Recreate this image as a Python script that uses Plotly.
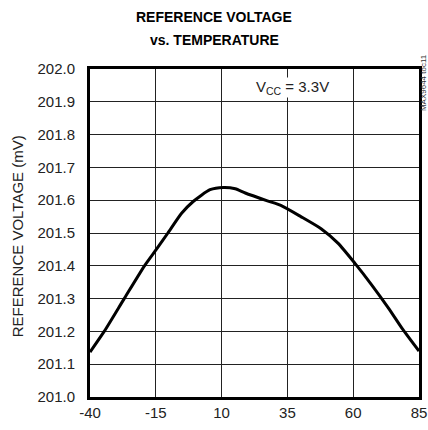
import plotly.graph_objects as go

temperature = [-40, -34.6, -27, -19.3, -14.8, -10.4, -5.2, -0.8, 5.6, 10.7, 15.2, 19, 27.4, 32.5, 40.1, 47.8, 54.2, 60.6, 67, 73.4, 78.5, 85]
voltage = [201.137, 201.2, 201.30, 201.40, 201.45, 201.50, 201.56, 201.596, 201.632, 201.639, 201.635, 201.622, 201.598, 201.584, 201.55, 201.513, 201.469, 201.408, 201.342, 201.271, 201.21, 201.14]

x_ticks = [-40, -15, 10, 35, 60, 85]
y_ticks = [201.0, 201.1, 201.2, 201.3, 201.4, 201.5, 201.6, 201.7, 201.8, 201.9, 202.0]
y_labels = [f"{v:.1f}" for v in y_ticks]

FONT = "Liberation Sans, Arial, sans-serif"

fig = go.Figure()
fig.add_trace(go.Scatter(x=temperature, y=voltage, mode="lines",
                         line=dict(color="black", width=3, shape="spline", smoothing=0.6),
                         hoverinfo="skip", showlegend=False))

fig.update_layout(
    width=428, height=430,
    margin=dict(l=90, r=9, t=69, b=33, autoexpand=False),
    paper_bgcolor="white", plot_bgcolor="white",
    font=dict(family=FONT, size=15, color="#222"),
    showlegend=False,
)
fig.update_xaxes(range=[-40, 85], tickvals=x_ticks, ticktext=[str(t) for t in x_ticks],
                 showgrid=True, gridcolor="#222", gridwidth=1,
                 showline=True, linecolor="black", linewidth=3, mirror=True,
                 ticks="", ticklabelstandoff=0, zeroline=False, automargin=False,
                 ticklabeloverflow="allow",
                 tickfont=dict(family=FONT, size=15, color="#222"))
fig.update_yaxes(range=[201.0, 202.0], tickvals=y_ticks, ticktext=y_labels,
                 showgrid=True, gridcolor="#222", gridwidth=1,
                 showline=True, linecolor="black", linewidth=3, mirror=True,
                 ticks="", ticklabelstandoff=9, zeroline=False, automargin=False,
                 tickfont=dict(family=FONT, size=15, color="#222"))

TITLE_FONT = dict(family=FONT, size=14, color="black")
fig.add_annotation(text="<b>REFERENCE VOLTAGE</b>", xref="paper", yref="paper",
                   x=0.377, y=1, yshift=52, xanchor="center", yanchor="middle",
                   showarrow=False, font=TITLE_FONT)
fig.add_annotation(text="<b>vs. TEMPERATURE</b>", xref="paper", yref="paper",
                   x=0.377, y=1, yshift=29, xanchor="center", yanchor="middle",
                   showarrow=False, font=TITLE_FONT)
fig.add_annotation(text="REFERENCE VOLTAGE (mV)", xref="paper", yref="paper",
                   x=-0.222, y=0.49, xanchor="center", yanchor="middle",
                   textangle=-90, showarrow=False,
                   font=dict(family=FONT, size=15, color="#222"))
fig.add_annotation(text="V<sub>CC</sub> = 3.3V", xref="paper", yref="paper",
                   x=0.615, y=0.945, xanchor="center", yanchor="middle",
                   showarrow=False, bgcolor="white", borderpad=0,
                   font=dict(family=FONT, size=15, color="#222"))
fig.add_annotation(text="MAX9644 toc11", xref="paper", yref="paper",
                   x=1.012, y=0.96, xanchor="center", yanchor="middle",
                   textangle=-90, showarrow=False,
                   font=dict(family=FONT, size=8, color="#333"))

fig.write_html("out.html",
               config={"displayModeBar": False, "staticPlot": True},
               post_script="document.body.style.margin='0';document.body.style.overflow='hidden';")
